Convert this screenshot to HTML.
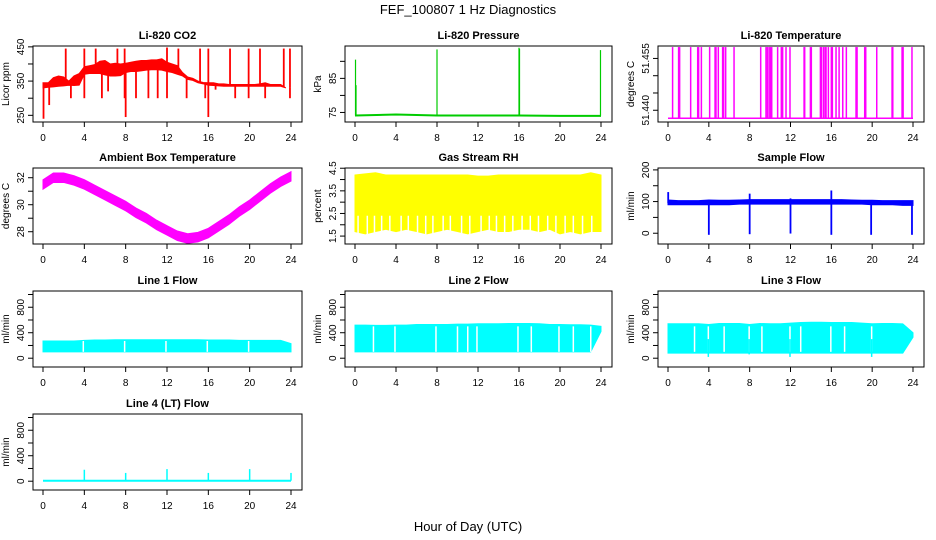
<!DOCTYPE html>
<html><head><meta charset="utf-8"><style>
html,body{margin:0;padding:0;background:#fff;}
svg{display:block;font-family:"Liberation Sans",Arial,sans-serif;}
</style></head><body>
<svg id="chart" width="936" height="540" viewBox="0 0 936 540" xmlns="http://www.w3.org/2000/svg">
<text x="468" y="14" text-anchor="middle" font-size="13">FEF_100807  1 Hz Diagnostics</text>
<text x="468" y="531" text-anchor="middle" font-size="13">Hour of Day (UTC)</text>
</svg>
<script>
// ---- data ----
const xTicks = [0,4,8,12,16,20,24];
const halfHours = [0,0.5,1,1.5,2,2.5,3,3.5,4,4.5,5,5.5,6,6.5,7,7.5,8,8.5,9,9.5,10,10.5,11,11.5,12,12.5,13,13.5,14,14.5,15,15.5,16,16.5,17,17.5,18,18.5,19,19.5,20,20.5,21,21.5,22,22.5,23,23.5];
const co2Lo = [330,332,333,335,336,338,337,338,370,372,372,372,368,365,365,366,375,378,378,380,382,383,383,382,378,375,370,365,355,352,345,342,338,337,336,335,335,335,335,335,335,335,335,335,335,335,335,330];
const co2Hi = [345,345,360,365,362,350,365,372,392,395,398,408,410,400,402,400,402,405,408,410,410,412,412,415,405,400,395,375,362,358,350,346,345,345,342,342,340,340,340,340,340,340,342,345,340,340,340,330];
const co2SpikeHours = [2.2,4.0,5.1,7.2,7.9,12.0,13.1,15.2,16.0,18.1,19.9,21.0,23.3,23.9,0.05,0.6,2.7,4.0,5.7,6.3,7.9,8.0,9.0,10.2,11.1,12.0,13.9,15.7,16.0,16.7,18.6,19.9,21.5,23.9];
const co2SpikeVals  = [445,445,445,445,445,448,445,445,445,445,445,445,445,445,240,280,300,300,300,320,300,245,300,300,300,300,300,300,245,325,300,300,300,300];

const presHours = [0,4,8,12,16,20,24];
const presVals  = [74.1,74.4,74.1,74.1,74.1,74.0,74.0];
const presSpikeHours = [0.05,0.1,8.0,16.0,16.05,23.95];
const presSpikeVals  = [90.5,83,93.5,94,93.7,93.3];

const tempBase = 51.4377;
const tempSpikeHours = [0.45,1.04,1.14,2.22,2.91,3.0,3.27,4.08,4.61,4.7,4.93,5.35,5.45,5.65,6.47,9.08,9.6,9.73,9.9,10.03,10.16,10.74,11.1,11.23,11.56,11.95,13.33,13.39,13.95,14.04,14.93,15.02,15.22,15.38,15.48,15.71,16.0,16.1,16.46,16.76,17.12,17.47,18.42,18.52,19.27,19.37,20.45,21.95,22.02,22.93,23.03,23.9];
const tempSpikeVal = 51.4583;

const hours = [0,1,2,3,4,5,6,7,8,9,10,11,12,13,14,15,16,17,18,19,20,21,22,23,24];
const ambMid = [31.6,32.1,32.1,31.9,31.6,31.2,30.8,30.4,30.0,29.5,29.1,28.6,28.2,27.8,27.6,27.7,28.0,28.5,29.0,29.6,30.1,30.7,31.3,31.8,32.2];

const rhLo = [1.7,1.6,1.7,1.8,1.7,1.8,1.7,1.6,1.7,1.8,1.7,1.6,1.7,1.8,1.7,1.7,1.8,1.8,1.7,1.8,1.6,1.7,1.6,1.7,1.7];
const rhHi = [4.2,4.25,4.3,4.2,4.2,4.2,4.2,4.2,4.2,4.2,4.2,4.2,4.15,4.15,4.2,4.2,4.2,4.2,4.2,4.2,4.2,4.2,4.2,4.3,4.2];
const rhGaps = [0.3,1.2,1.9,2.6,3.4,4.5,5.2,6.1,6.9,7.6,8.6,9.3,10.4,11.2,12.3,13.1,13.8,14.6,15.4,16.3,17.1,17.9,18.8,19.6,20.5,21.3,22.2,23.1];

const sampLo = [90,90,90,90,90,90,90,92,92,92,92,92,92,92,92,92,92,92,92,92,90,90,90,88,88];
const sampHi = [105,103,103,103,105,104,104,105,106,106,106,106,106,106,106,106,106,106,105,104,104,103,103,103,103];
const sampSpikeHours = [0.02,8.0,12.0,16.0,4.0,8.0,12.0,16.0,19.9,23.9];
const sampSpikeVals  = [130,125,110,135,-5,-3,-1,-5,-5,-5];

const l1Lo = [100,100,100,100,100,100,100,100,100,100,100,100,100,100,100,100,100,100,100,100,100,100,100,100,100];
const l1Hi = [270,270,270,270,280,285,285,290,290,290,290,290,290,290,290,290,285,285,285,280,280,280,280,280,230];
const l1Gaps = [3.9,7.9,11.9,15.9,19.9];
const l2Lo = [100,100,100,100,100,100,100,100,100,100,100,100,100,100,100,100,100,100,100,100,100,100,100,100,420];
const l2Hi = [520,520,515,515,520,520,530,530,530,530,535,535,540,540,540,545,545,545,540,530,530,525,525,520,500];
const l2Gaps = [1.8,3.9,7.9,10.0,11.0,11.9,15.9,17.2,19.9,21.3,23.0];
const l3Lo = [80,80,80,80,80,80,80,80,80,80,80,80,80,80,80,80,80,80,80,80,80,80,80,80,330];
const l3Hi = [540,540,540,540,530,545,545,545,530,545,540,540,550,560,565,565,560,560,560,550,540,545,545,540,400];
const l3Gaps = [2.6,3.95,5.5,7.95,9.2,11.95,13.0,15.95,17.3,19.95];
const l3DipHours = [3.95,11.95,19.95,7.95];
const l3DipVals = [20,20,20,60];
const l4Base = [8,8,8,8,8,8,8,8,8,8,8,8,8,8,8,8,8,8,8,8,8,8,8,8,8];
const l4SpikeHours = [4,8,12,16,20,24];
const l4SpikeVals = [180,130,190,130,190,130];

// ---- drawing ----
const svg = document.getElementById('chart');
const NS = 'http://www.w3.org/2000/svg';
function mk(tag, attrs, parent){
  const e = document.createElementNS(NS, tag);
  for (const k in attrs) e.setAttribute(k, attrs[k]);
  (parent||svg).appendChild(e);
  return e;
}
const colX = [[33,302],[345,612],[658,924]];
const rowY = [46,168,291,414];
const H = 76;

function makePanel(col,row,title,ylab,ymin,ymax,yticks,ylabels,name){
  const x0 = colX[col][0], x1 = colX[col][1], y0 = rowY[row], y1 = y0+H;
  const g = mk('g',{});
  
  
  const xs = h => x0+10 + h/24*((x1-11)-(x0+10));
  const ys = v => y1 - (v-ymin)/(ymax-ymin)*H;
  const t = mk('text',{x:(x0+x1)/2,y:y0-7,'text-anchor':'middle','font-size':11,'font-weight':'bold'},g);
  t.textContent = title;
  
  
  const xa = mk('g',{},g);
  
  
  xTicks.forEach(h=>{
    mk('line',{x1:xs(h),x2:xs(h),y1:y1,y2:y1+5,stroke:'#000','stroke-width':1},xa);
    const l = mk('text',{x:xs(h),y:y1+19,'text-anchor':'middle','font-size':10},xa);
    l.textContent = h;
  });
  const ya = mk('g',{},g);
  
  
  yticks.forEach((v,i)=>{
    mk('line',{x1:x0,x2:x0-5,y1:ys(v),y2:ys(v),stroke:'#000','stroke-width':1},ya);
    if (ylabels[i]!==''){
      const l = mk('text',{x:x0-9,y:ys(v),'text-anchor':'middle','font-size':10,transform:`rotate(-90 ${x0-9} ${ys(v)})`},ya);
      l.textContent = ylabels[i];
    }
  });
  const yl = mk('text',{x:x0-24,y:(y0+y1)/2,'text-anchor':'middle','font-size':10,transform:`rotate(-90 ${x0-24} ${(y0+y1)/2})`},g);
  yl.textContent = ylab;
  
  
  const plot = mk('g',{},g);
  const box = mk('rect',{x:x0,y:y0,width:x1-x0,height:H,fill:'none',stroke:'#000','stroke-width':1},g);
  
  
  return {xs,ys,plot};
}
function band(p,hs,lo,hi,color,name,sw){
  let d='';
  hs.forEach((h,i)=>{ d += (i?'L':'M')+p.xs(h)+' '+p.ys(hi[i]); });
  for(let i=hs.length-1;i>=0;i--) d += 'L'+p.xs(hs[i])+' '+p.ys(lo[i]);
  const e = mk('path',{d:d+'Z',fill:color,stroke:color,'stroke-width':sw===undefined?1.5:sw},p.plot);
  
  
}
function spikes(p,hs,vs,baseFn,color,name,w){
  hs.forEach((h,i)=>{
    const e = mk('line',{x1:p.xs(h),x2:p.xs(h),y1:p.ys(baseFn(h)),y2:p.ys(vs[i]),stroke:color,'stroke-width':w||1.5},p.plot);
    
    
  });
}
function gaps(p,hs,lo,hi){
  hs.forEach(h=>{
    mk('line',{x1:p.xs(h),x2:p.xs(h),y1:p.ys(hi),y2:p.ys(lo),stroke:'#fff','stroke-width':1.5},p.plot);
  });
}
function interp(hs,vals){
  return h=>{
    if(h<=hs[0]) return vals[0];
    for(let i=1;i<hs.length;i++) if(h<=hs[i]){const f=(h-hs[i-1])/(hs[i]-hs[i-1]);return vals[i-1]+f*(vals[i]-vals[i-1]);}
    return vals[vals.length-1];
  };
}

// CO2
let p = makePanel(0,0,'Li-820 CO2','Licor ppm',230.5,452.5,[250,300,350,400,450],['250','','350','','450'],'co2');
band(p,halfHours,co2Lo,co2Hi,'#ff0000','co2-series',1);
const co2Mid = interp(halfHours, co2Lo.map((v,i)=>(v+co2Hi[i])/2));
spikes(p,co2SpikeHours,co2SpikeVals,co2Mid,'#ff0000','co2-spike',1.8);

// Pressure
p = makePanel(1,0,'Li-820 Pressure','kPa',72.2,94.5,[75,80,85,90],['75','','85',''],'pressure');
const pres = interp(presHours,presVals);
let d='';
presHours.forEach((h,i)=>{d+=(i?'L':'M')+p.xs(h)+' '+p.ys(presVals[i]);});
let e = mk('path',{d:d,fill:'none',stroke:'#00cc00','stroke-width':2},p.plot);


spikes(p,presSpikeHours,presSpikeVals,pres,'#00cc00','pressure-spike',1.2);

// Li temperature
p = makePanel(2,0,'Li-820 Temperature','degrees C',51.4366,51.4586,[51.440,51.445,51.450,51.455],['51.440','','','51.455'],'li-temp');
e = mk('line',{x1:p.xs(0),x2:p.xs(24),y1:p.ys(tempBase),y2:p.ys(tempBase),stroke:'#ff00ff','stroke-width':1.5},p.plot);


spikes(p,tempSpikeHours,tempSpikeHours.map(()=>tempSpikeVal),()=>tempBase,'#ff00ff','li-temp-spike',1.5);

// Ambient
p = makePanel(0,1,'Ambient Box Temperature','degrees C',27.09,32.72,[28,29,30,31,32],['28','','30','','32'],'ambient');
band(p,hours,ambMid.map(v=>v-0.45),ambMid.map(v=>v+0.25),'#ff00ff','ambient-series',1);

// RH
p = makePanel(1,1,'Gas Stream RH','percent',1.15,4.51,[1.5,2,2.5,3,3.5,4,4.5],['1.5','','2.5','','3.5','','4.5'],'rh');
band(p,hours,rhLo,rhHi,'#ffff00','rh-series',1);
gaps(p,rhGaps,1.55,2.4);

// Sample flow
p = makePanel(2,1,'Sample Flow','ml/min',-34,206,[0,50,100,150,200],['0','','100','','200'],'sample-flow');
band(p,hours,sampLo,sampHi,'#0000ff','sample-flow-series',1);
spikes(p,sampSpikeHours,sampSpikeVals,()=>95,'#0000ff','sample-flow-spike',1.8);

// Line flows
const fT=[0,200,400,600,800,1000], fL=['0','','400','','800',''];
p = makePanel(0,2,'Line 1 Flow','ml/min',-138,1055,fT,fL,'line1-flow');
band(p,hours,l1Lo,l1Hi,'#00ffff','line1-flow-series',1); gaps(p,l1Gaps,100,270);
p = makePanel(1,2,'Line 2 Flow','ml/min',-138,1055,fT,fL,'line2-flow');
band(p,hours,l2Lo,l2Hi,'#00ffff','line2-flow-series',1); gaps(p,l2Gaps,100,500);
p = makePanel(2,2,'Line 3 Flow','ml/min',-138,1055,fT,fL,'line3-flow');
band(p,hours,l3Lo,l3Hi,'#00ffff','line3-flow-series',1); gaps(p,l3Gaps,100,500);
spikes(p,l3DipHours,l3DipVals,()=>300,'#00ffff','line3-flow-dip',1.5);
p = makePanel(0,3,'Line 4 (LT) Flow','ml/min',-138,1055,fT,fL,'line4-flow');
let d4='';
hours.forEach((h,i)=>{d4+=(i?'L':'M')+p.xs(h)+' '+p.ys(l4Base[i]);});
e = mk('path',{d:d4,fill:'none',stroke:'#00ffff','stroke-width':2},p.plot);


spikes(p,l4SpikeHours,l4SpikeVals,()=>8,'#00ffff','line4-flow-spike',1.5);
</script>
</body></html>
